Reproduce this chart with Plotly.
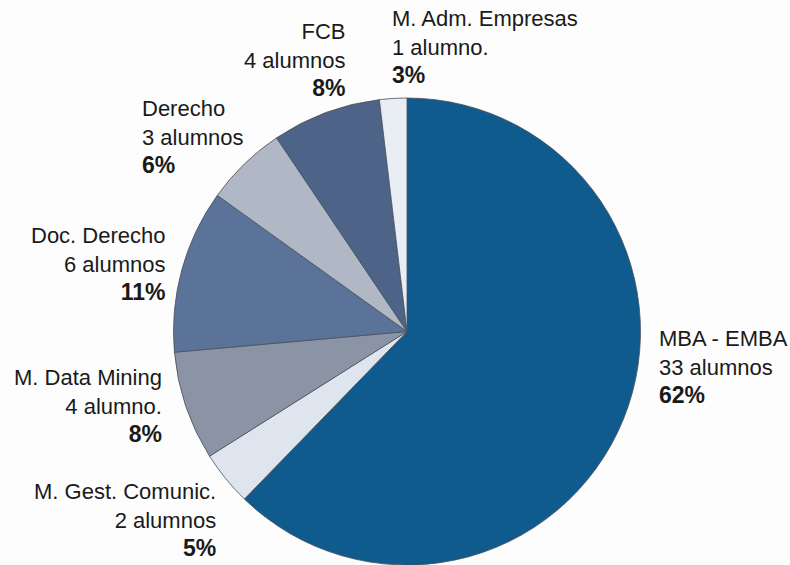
import plotly.graph_objects as go

programs = ["MBA - EMBA", "M. Gest. Comunic.", "M. Data Mining", "Doc. Derecho",
            "Derecho", "FCB", "M. Adm. Empresas"]
students = [33, 2, 4, 6, 3, 4, 1]
count_labels = ["33 alumnos", "2 alumnos", "4 alumno.", "6 alumnos",
                "3 alumnos", "4 alumnos", "1 alumno."]
pct_labels = ["62%", "5%", "8%", "11%", "6%", "8%", "3%"]
colors = ["#0f5b8d", "#dfe5ee", "#8b94a5", "#5b7299", "#b0b7c5", "#4d6387", "#e9edf4"]

# label placement (pixel anchor x, middle-line y, anchor side)
label_pos = [
    (657, 367, "left"),
    (218, 520, "right"),
    (164, 406, "right"),
    (168, 264, "right"),
    (140, 137, "left"),
    (348, 60, "right"),
    (390, 47, "left"),
]

W, H = 790, 565

fig = go.Figure(go.Pie(
    values=students,
    labels=programs,
    sort=False,
    direction="clockwise",
    rotation=0,
    marker=dict(colors=colors, line=dict(color="#4a4f5a", width=0.8)),
    textinfo="none",
    hoverinfo="label+value",
    domain=dict(x=[173 / W, 641 / W], y=[0, (H - 98) / H]),
    showlegend=False,
))

for name, cnt, pct, (px, py, side) in zip(programs, count_labels, pct_labels, label_pos):
    fig.add_annotation(
        x=px / W, y=1 - py / H, xref="paper", yref="paper",
        xanchor=side, yanchor="middle", align=side,
        text=f"{name}<br>{cnt}<br><b><span style='font-size:23px'>{pct}</span></b>",
        showarrow=False,
        font=dict(family="Liberation Sans, Arial, sans-serif", size=22, color="#1a1a1a"),
    )

fig.update_layout(
    width=W, height=H,
    margin=dict(l=0, r=0, t=0, b=0),
    paper_bgcolor="#fdfdfd",
    plot_bgcolor="#fdfdfd",
)

fig.write_html("out.html")
